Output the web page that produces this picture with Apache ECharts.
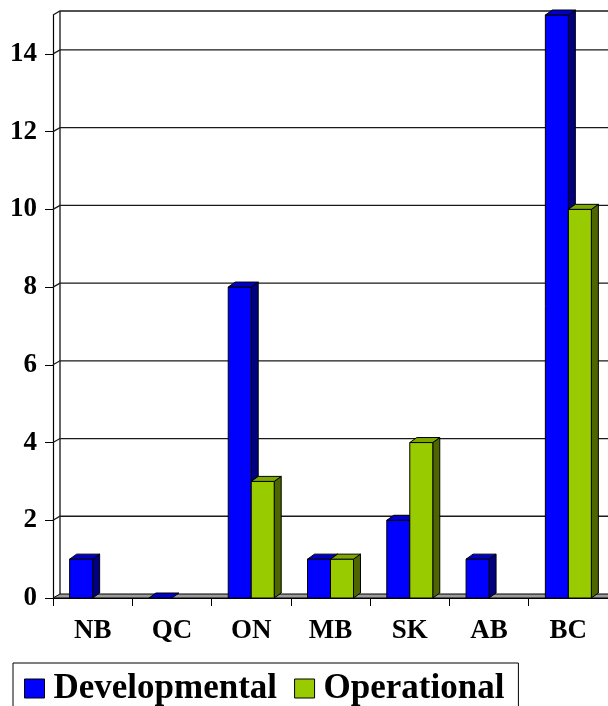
<!DOCTYPE html>
<html>
<head>
<meta charset="utf-8">
<script src="https://cdn.jsdelivr.net/npm/echarts@6/dist/echarts.min.js"></script>
<style>
  html, body { margin: 0; padding: 0; background: #ffffff; }
  #chart { width: 608px; height: 706px; }
</style>
</head>
<body>
<div id="chart"></div>
<script>
// Provinces and counts of developmental / operational projects
const categories = ['NB', 'QC', 'ON', 'MB', 'SK', 'AB', 'BC'];
const developmental = [1, 0, 8, 1, 2, 1, 15];
const operational = [null, null, 3, 1, 4, null, 10];
const yTicks = [0, 2, 4, 6, 8, 10, 12, 14];
const yMax = 15;

// Perspective offset of the back plane and bar depth (pixels)
const DX = 7, DY = -4;
const BAR_DX = 7, BAR_DY = -5;
const BAR_RATIO = 0.29;

const FONT = '"Liberation Serif", "Times New Roman", serif';

const chart = echarts.init(document.getElementById('chart'), null, { renderer: 'canvas' });

// Back wall, left wall and floor of the 3D plot area
function renderWall(params, api) {
  const cs = params.coordSys;
  const v = api.value(1);
  const y = api.coord([0, v])[1];
  const x0 = cs.x, x1 = cs.x + cs.width;
  const children = [];
  if (v === 0) {
    children.push({
      type: 'polygon',
      shape: { points: [[x0, y], [x1, y], [x1 + DX, y + DY], [x0 + DX, y + DY]] },
      style: { fill: '#9c9c9c', stroke: '#000', lineWidth: 1 }
    });
    // back wall left edge
    const yTop = api.coord([0, yMax])[1];
    children.push({
      type: 'line',
      shape: { x1: x0 + DX, y1: y + DY, x2: x0 + DX, y2: yTop + DY },
      style: { stroke: '#000', lineWidth: 1.2 }
    });
  } else {
    children.push({
      type: 'polyline',
      shape: { points: [[x0, y], [x0 + DX, y + DY], [x1 + DX, y + DY]] },
      style: { stroke: '#1a1a1a', lineWidth: 1.3, fill: null }
    });
  }
  return { type: 'group', children: children };
}

// 3D column: front face, top face and right side face
function makeBarRenderer(side, colors) {
  return function (params, api) {
    const val = api.value(1);
    if (val === null || val === undefined || isNaN(val)) return null;
    const c = api.coord([api.value(0), val]);
    const base = api.coord([api.value(0), 0])[1];
    const bw = api.size([1, 0])[0] * BAR_RATIO;
    const xl = side < 0 ? c[0] - bw : c[0];
    const xr = xl + bw;
    const yt = c[1];
    const children = [];
    if (base - yt > 0.5) {
      children.push({
        type: 'polygon',
        shape: { points: [[xr, yt], [xr + BAR_DX, yt + BAR_DY], [xr + BAR_DX, base + BAR_DY], [xr, base]] },
        style: { fill: colors.side, stroke: '#000', lineWidth: 1 }
      });
      children.push({
        type: 'rect',
        shape: { x: xl, y: yt, width: bw, height: base - yt },
        style: { fill: colors.front, stroke: '#000', lineWidth: 1 }
      });
    }
    children.push({
      type: 'polygon',
      shape: { points: [[xl, yt], [xr, yt], [xr + BAR_DX, yt + BAR_DY], [xl + BAR_DX, yt + BAR_DY]] },
      style: { fill: colors.top, stroke: '#000', lineWidth: 1 }
    });
    return { type: 'group', children: children };
  };
}

const devColors = { front: '#0000ff', top: '#0000c8', side: '#000080' };
const opColors = { front: '#99cc00', top: '#7ea800', side: '#4d6600' };

const wallData = yTicks.concat([yMax]).map(v => [0, v]);
const devData = developmental.map((v, i) => [i, v]);
const opData = operational.map((v, i) => [i, v]);

chart.setOption({
  animation: false,
  backgroundColor: '#ffffff',
  grid: { left: 53, right: 0, top: 15, bottom: 108, containLabel: false },
  xAxis: {
    type: 'category',
    data: categories,
    boundaryGap: true,
    axisLine: { show: true, lineStyle: { color: '#000', width: 1 } },
    axisTick: { show: true, length: 8, interval: 0, lineStyle: { color: '#000', width: 1 } },
    axisLabel: { margin: 20, interval: 0, color: '#000', fontFamily: FONT, fontWeight: 'bold', fontSize: 27 },
    splitLine: { show: false }
  },
  yAxis: {
    type: 'value',
    min: 0,
    max: yMax,
    interval: 1,
    axisLine: { show: true, lineStyle: { color: '#000', width: 1.2 } },
    axisTick: { show: true, length: 8, customValues: yTicks, lineStyle: { color: '#000', width: 1 } },
    axisLabel: { customValues: yTicks, margin: 16, color: '#000', fontFamily: FONT, fontWeight: 'bold', fontSize: 27 },
    splitLine: { show: false }
  },
  legend: {
    left: 13,
    top: 663,
    orient: 'horizontal',
    backgroundColor: '#ffffff',
    borderColor: '#000',
    borderWidth: 1,
    borderRadius: 0,
    padding: [8, 14, 24, 11],
    itemWidth: 20,
    itemHeight: 19,
    itemGap: 17,
    icon: 'rect',
    selectedMode: false,
    textStyle: { color: '#000', fontFamily: FONT, fontWeight: 'bold', fontSize: 35, padding: [0, 0, 0, 4] },
    data: [
      { name: 'Developmental', itemStyle: { color: devColors.front, borderColor: '#000', borderWidth: 1 } },
      { name: 'Operational', itemStyle: { color: opColors.front, borderColor: '#000', borderWidth: 1 } }
    ]
  },
  series: [
    {
      name: 'wall',
      type: 'custom',
      silent: true,
      z: 1,
      clip: false,
      renderItem: renderWall,
      encode: { x: 0, y: 1 },
      data: wallData
    },
    {
      name: 'Developmental',
      type: 'custom',
      z: 3,
      clip: false,
      itemStyle: { color: devColors.front },
      renderItem: makeBarRenderer(-1, devColors),
      encode: { x: 0, y: 1 },
      data: devData
    },
    {
      name: 'Operational',
      type: 'custom',
      z: 3,
      clip: false,
      itemStyle: { color: opColors.front },
      renderItem: makeBarRenderer(1, opColors),
      encode: { x: 0, y: 1 },
      data: opData
    }
  ]
});
</script>
</body>
</html>
